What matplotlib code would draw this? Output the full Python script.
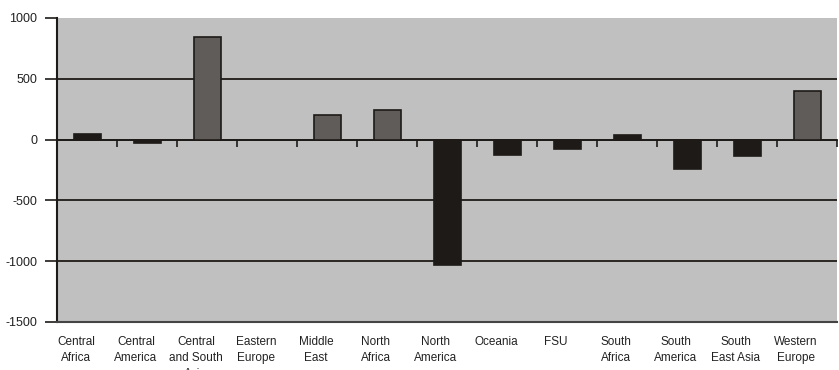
import matplotlib
matplotlib.use("Agg")
import matplotlib.pyplot as plt
import matplotlib.transforms as mtransforms
import numpy as np

categories = ["Central\nAfrica", "Central\nAmerica", "Central\nand South\nAsia", "Eastern\nEurope",
              "Middle\nEast", "North\nAfrica", "North\nAmerica", "Oceania", "FSU", "South\nAfrica",
              "South\nAmerica", "South\nEast Asia", "Western\nEurope"]
values = [45, -30, 840, 0, 200, 245, -1030, -130, -80, 35, -240, -135, 400]
bar_colors = ["#1e1a17", "#1e1a17", "#5f5c5a", "#1e1a17", "#5f5c5a", "#5f5c5a", "#1e1a17",
              "#1e1a17", "#1e1a17", "#1e1a17", "#1e1a17", "#1e1a17", "#5f5c5a"]
yticks = [-1500, -1000, -500, 0, 500, 1000]

plt.rcParams['font.family'] = ['Liberation Sans', 'DejaVu Sans']

fig = plt.figure(figsize=(8.39, 3.70), dpi=100)
ax = fig.add_axes([57/839, 1 - 322/370, (837-57)/839, (322-18)/370])
ax.set_facecolor("#c0c0c0")

x = np.arange(len(categories))
ax.bar(x, values, width=0.45, color=bar_colors, edgecolor="#1e1a17", linewidth=1.2, zorder=3)

ax.set_xlim(-0.5, len(categories) - 0.5)
ax.set_ylim(-1500, 1000)
ax.set_yticks(yticks)
ax.set_yticklabels([str(v) for v in yticks], fontsize=9, color="#222222")
for v in yticks:
    if v not in (-1500, 1000):
        ax.axhline(v, color="#1e1a17", linewidth=1.3, zorder=2)

ax.set_xticks(x)
ax.set_xticklabels(categories, fontsize=8.5, color="#222222", va="top", linespacing=1.45)
ax.tick_params(axis='x', length=0, pad=10)
ax.tick_params(axis='y', length=9, width=1.2, color="#1e1a17", pad=5)
offset = mtransforms.ScaledTranslation(-8/72, 0, fig.dpi_scale_trans)
for lab in ax.get_xticklabels():
    lab.set_transform(lab.get_transform() + offset)

for s in ("top", "right"):
    ax.spines[s].set_visible(False)
ax.spines["left"].set_color("#1e1a17")
ax.spines["left"].set_linewidth(1.5)
ax.spines["bottom"].set_color("#444444")
ax.spines["bottom"].set_linewidth(1.5)

# zero-line axis with category separator ticks
y0, y1 = ax.get_ylim()
loc = (0 - y0) / (y1 - y0)
sec = ax.secondary_xaxis(loc)
sec.set_xticks(np.arange(len(categories)) + 0.5)
sec.set_xticklabels([])
sec.tick_params(length=5, width=1.2, color="#1e1a17", direction="in")
sec.spines["bottom"].set_color("#1e1a17")
sec.spines["bottom"].set_linewidth(1.3)
sec.spines["top"].set_color("#1e1a17")
sec.spines["top"].set_linewidth(1.3)

fig.savefig("out.png", dpi=100)
